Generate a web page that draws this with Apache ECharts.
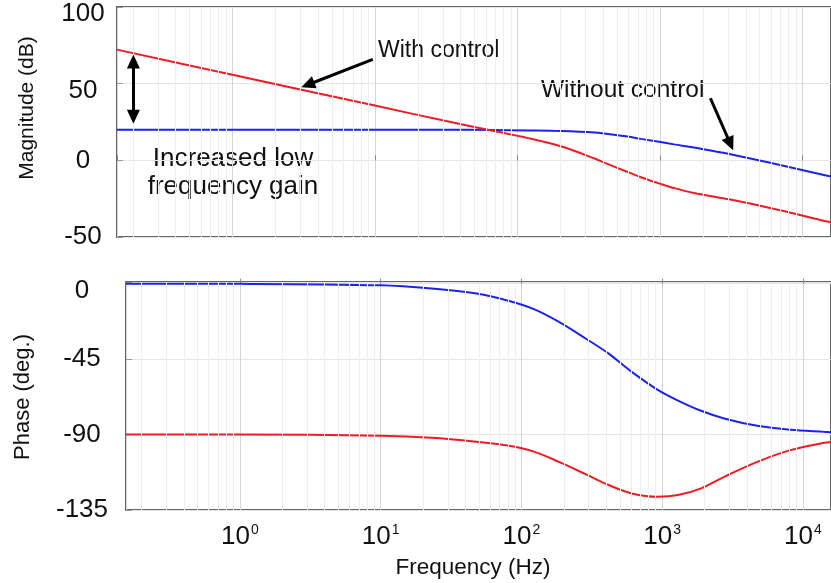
<!DOCTYPE html>
<html><head><meta charset="utf-8">
<script src="https://cdn.jsdelivr.net/npm/echarts@6/dist/echarts.min.js"></script>
<style>html,body{margin:0;padding:0;background:#fff}#c{width:831px;height:583px}</style>
</head><body><div id="c"></div>
<script>
// ---- data (frequency in Hz) ----
const magFreq     = [0.155, 1, 10, 31.6, 64.6, 119, 204, 348, 407, 594, 735, 1014, 1259, 1730, 3119, 6592, 14900, 15849];
const magWithout  = [20, 20, 20, 19.9, 19.8, 19.5, 19.1, 18.2, 17.5, 15.5, 14.0, 11.9, 10.4, 8.3, 4.0, -2.6, -10.1, -10.6];
const magWith     = [72.2, 55.8, 35.7, 25.6, 19.6, 14.5, 9.0, 1.2, -1.5, -7.6, -11.0, -15.4, -18.1, -21.3, -25.6, -32.0, -39.9, -40.4];
const phaseFreq   = [0.155, 1, 10, 23, 48, 82, 124, 185, 286, 417, 608, 938, 1297, 1892, 2761, 4742, 8147, 14200, 15849];
const phaseWithout= [0, -0.1, -1.0, -2.9, -5.9, -10.3, -15.3, -22.8, -32.7, -41.7, -52.6, -63.5, -69.7, -75.8, -80.4, -84.8, -87.2, -88.4, -88.6];
const phaseWith   = [-90, -90, -90.7, -91.9, -94.3, -96.7, -100.3, -106.3, -113.6, -120.1, -125.1, -127.1, -126.1, -122.1, -115.2, -106.3, -99.3, -94.9, -94.4];
const magTickLabels   = [-50, 0, 50, 100];
const phaseTickLabels = [-135, -90, -45, 0];
// annotation arrows in data coordinates [freq, value]
const arrowGain    = [[0.202, 28.5], [0.202, 64.5]];
const arrowWith    = [[9.66, 65.9], [3.38, 49.3]];
const arrowWithout = [[2259, 40.5], [3119, 10.7]];

// ---- layout / styling ----
const FONT = '"Liberation Sans", Arial, Helvetica, sans-serif';
const X_MIN = 0.155, X_MAX = 15849;
const RED = '#ee1c24', BLUE = '#1e22ee';
const minorFreqs = [];
for (let e = -1; e <= 4; e++) for (let k = 2; k <= 9; k++) {
  const v = +(k * Math.pow(10, e)).toPrecision(3);
  if (v > X_MIN && v < X_MAX) minorFreqs.push(v);
}
const zip = (xs, ys) => xs.map((x, i) => [x, ys[i]]);

function isDecade(v) {
  const l = Math.log10(v);
  return Math.abs(l - Math.round(l)) < 1e-6;
}
function xAxisCfg(gi, showLabels) {
  return {
    type: 'log', logBase: 10, gridIndex: gi, min: X_MIN, max: X_MAX,
    axisLine: { show: false },
    axisTick: { show: true, inside: true, length: 5, lineStyle: { color: '#888' } },
    splitLine: { show: true, lineStyle: { color: '#d6d6d6', width: 1 } },
    axisLabel: {
      show: showLabels, margin: 13, showMinLabel: false, showMaxLabel: false,
      formatter: v => isDecade(v) ? '{b|10}{s|' + Math.round(Math.log10(v)) + '}' : '',
      rich: {
        b: { fontSize: 26, fontFamily: FONT, color: '#111', lineHeight: 28 },
        s: { fontSize: 14, fontFamily: FONT, color: '#111', verticalAlign: 'top', lineHeight: 28, padding: [0, 0, 12, 1] }
      }
    }
  };
}
function yAxisCfg(gi, min, max, interval, margin, labels, padded) {
  return {
    type: 'value', gridIndex: gi, min: min, max: max, interval: interval,
    axisLine: { show: false },
    axisTick: { show: true, inside: true, length: 6, lineStyle: { color: '#999' } },
    splitLine: { show: true, lineStyle: { color: '#e6e6e6', width: 1 } },
    axisLabel: {
      align: 'center', margin: margin, fontSize: 26, fontFamily: FONT, color: '#111',
      formatter: v => labels.indexOf(v) < 0 ? '' : (padded.indexOf(v) >= 0 ? '{p|' + v + '}' : String(v)),
      rich: { p: { fontSize: 26, fontFamily: FONT, color: '#111', padding: [14, 0, 0, 0] } }
    }
  };
}
function gridLines(xi) {
  return {
    type: 'line', xAxisIndex: xi, yAxisIndex: xi, data: [], silent: true, z: 1,
    markLine: {
      silent: true, animation: false, symbol: ['none', 'none'], label: { show: false },
      lineStyle: { color: '#efefef', width: 1, type: 'solid' },
      data: minorFreqs.map(v => ({ xAxis: v }))
    }
  };
}
function curve(name, xi, freqs, vals, color) {
  return {
    name: name, type: 'line', xAxisIndex: xi, yAxisIndex: xi, data: zip(freqs, vals),
    showSymbol: false, smooth: 0.35, z: 3,
    lineStyle: { color: color, width: 2 }, itemStyle: { color: color }
  };
}
function arrowPair(pts, both) {
  return [{ coord: pts[0], symbol: both ? 'triangle' : 'none' }, { coord: pts[1], symbol: 'triangle' }];
}

const chart = echarts.init(document.getElementById('c'));
chart.setOption({
  animation: false,
  backgroundColor: '#fff',
  grid: [
    { left: 117, top: 7, right: -5, height: 230, show: true, borderColor: '#666', borderWidth: 2, containLabel: false },
    { left: 126, top: 282, right: -6, height: 228, show: true, borderColor: '#666', borderWidth: 2, containLabel: false }
  ],
  xAxis: [xAxisCfg(0, false), xAxisCfg(1, true)],
  yAxis: [
    yAxisCfg(0, -50, 100, 50, 34, magTickLabels, [100, 50]),
    yAxisCfg(1, -135, 1, 45, 44, phaseTickLabels, [0])
  ],
  series: [
    gridLines(0), gridLines(1),
    curve('Without control', 0, magFreq, magWithout, BLUE),
    curve('With control', 0, magFreq, magWith, RED),
    curve('Without control', 1, phaseFreq, phaseWithout, BLUE),
    curve('With control', 1, phaseFreq, phaseWith, RED),
    {
      type: 'line', xAxisIndex: 0, yAxisIndex: 0, data: [], silent: true, z: 5,
      markLine: {
        silent: true, animation: false, symbolSize: [13, 14], label: { show: false },
        lineStyle: { color: '#000', width: 3, type: 'solid' },
        emphasis: { disabled: true },
        data: [arrowPair(arrowGain, true), arrowPair(arrowWith, false), arrowPair(arrowWithout, false)]
      }
    }
  ],
  graphic: [
    { type: 'text', x: 27, y: 108, rotation: Math.PI / 2, style: { text: 'Magnitude (dB)', fontSize: 21, fontFamily: FONT, fill: '#111', align: 'center', verticalAlign: 'middle' } },
    { type: 'text', x: 23, y: 397, rotation: Math.PI / 2, style: { text: 'Phase (deg.)', fontSize: 22, fontFamily: FONT, fill: '#111', align: 'center', verticalAlign: 'middle' } },
    { type: 'text', x: 473, y: 568, style: { text: 'Frequency (Hz)', fontSize: 22.5, fontFamily: FONT, fill: '#111', align: 'center', verticalAlign: 'middle' } },
    { type: 'text', x: 378, y: 51, style: { text: 'With control', fontSize: 23, fontFamily: FONT, fill: '#111', align: 'left', verticalAlign: 'middle' } },
    { type: 'text', x: 541, y: 90, style: { text: 'Without control', fontSize: 24.5, fontFamily: FONT, fill: '#111', align: 'left', verticalAlign: 'middle' } },
    { type: 'text', x: 233, y: 173, style: { text: 'Increased low\nfrequency gain', fontSize: 26, lineHeight: 28, fontFamily: FONT, fill: '#111', align: 'center', verticalAlign: 'middle' } }
  ]
});
</script>
</body></html>
